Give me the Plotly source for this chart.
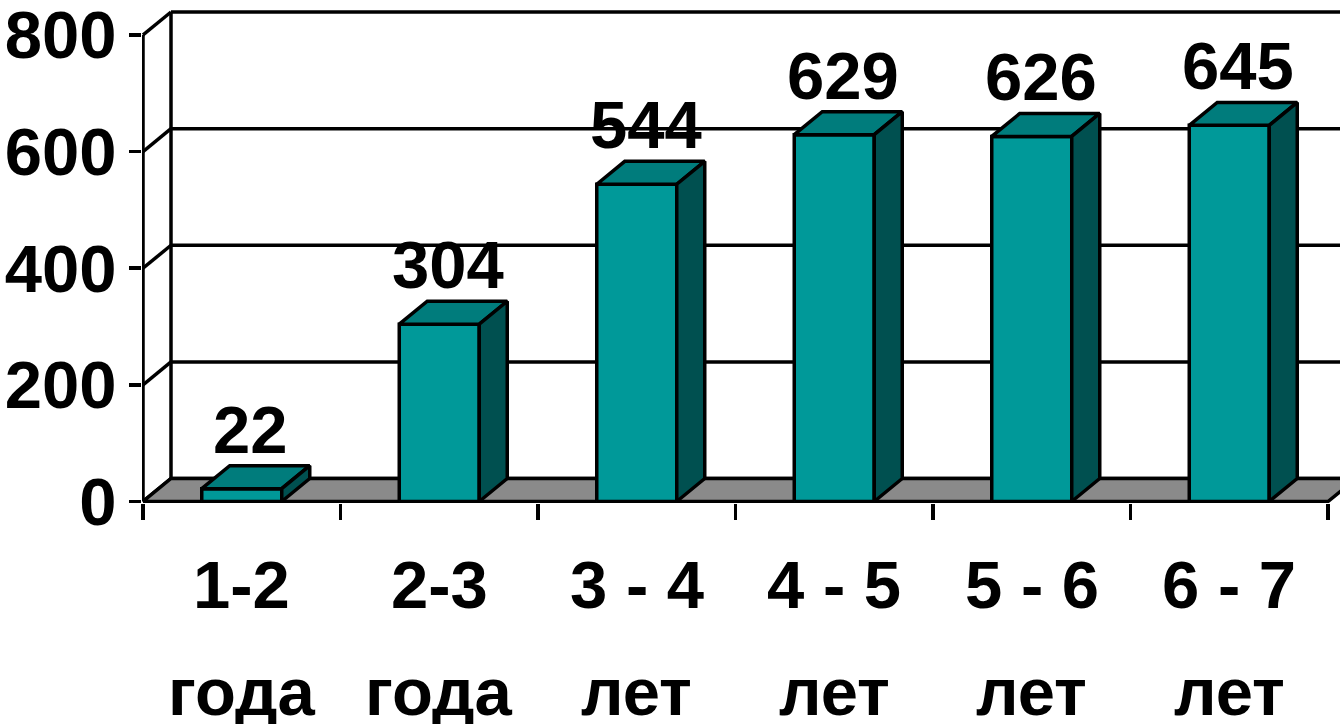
import plotly.graph_objects as go

# ---- data ----
categories_line1 = ["1-2", "2-3", "3 - 4", "4 - 5", "5 - 6", "6 - 7"]
categories_line2 = ["года", "года", "лет", "лет", "лет", "лет"]
values = [22, 304, 544, 629, 626, 645]
y_tick_values = [0, 200, 400, 600, 800]

# ---- styling / geometry ----
W, H = 1340, 724
SX = 197.5            # px per category
SY = 467 / 800        # px per y unit
DEPTH_PX = (28, 23)   # 3D offset in px (right, up)
DX = DEPTH_PX[0] / SX
DY = DEPTH_PX[1] / SY
BAR_W = 80 / SX
FRONT = "#009999"
TOP = "#007C7C"
SIDE = "#005050"
FLOOR = "#8A8A8A"
LW = 3.5
FONT = "Liberation Sans Narrow, Arial Narrow, Liberation Sans, Arial, sans-serif"
FS = 67

left_px = 142
axis_px = 143
bottom_px = 503.5
top_margin = 5
xmin = -0.5 - (axis_px - left_px) / SX
xmax = xmin + (W - left_px) / SX
ymin = -1.5 / SY
ymax = ymin + (bottom_px - top_margin) / SY

n = len(values)
x0, x1 = -0.5, n - 0.5
ytop = max(y_tick_values)

fig = go.Figure()

def poly(xs, ys, fill=None, width=LW):
    fig.add_trace(go.Scatter(
        x=xs, y=ys, mode="lines",
        fill="toself" if fill else None,
        fillcolor=fill,
        line=dict(color="black", width=width),
        hoverinfo="skip", showlegend=False))

# back wall grid lines
for v in y_tick_values:
    poly([x0 + DX, x1 + DX], [v + DY, v + DY])
    # side-wall diagonals
    poly([x0, x0 + DX], [v, v + DY])
# back wall left edge
poly([x0 + DX, x0 + DX], [DY, ytop + DY])
# floor
poly([x0, x1, x1 + DX, x0 + DX, x0], [0, 0, DY, DY, 0], fill=FLOOR)
# front y axis line
poly([x0, x0], [0, ytop])

# bars
for i, v in enumerate(values):
    a, b = i - BAR_W / 2, i + BAR_W / 2
    poly([a, b, b, a, a], [0, 0, v, v, 0], fill=FRONT)
    poly([a, b, b + DX, a + DX, a], [v, v, v + DY, v + DY, v], fill=TOP)
    poly([b, b + DX, b + DX, b, b], [0, DY, v + DY, v, 0], fill=SIDE)

annotations = []
for i, v in enumerate(values):
    annotations.append(dict(
        x=i, y=v + DY, xref="x", yref="y", text=str(v), showarrow=False,
        xanchor="center", yanchor="bottom", xshift=9, yshift=-3,
        font=dict(family=FONT, size=FS, color="black", weight="bold")))
    annotations.append(dict(
        x=i, y=0, xref="x", yref="y", text=categories_line1[i], showarrow=False,
        xanchor="center", yanchor="middle", yshift=-83,
        font=dict(family=FONT, size=FS, color="black", weight="bold")))
    annotations.append(dict(
        x=i, y=0, xref="x", yref="y", text=categories_line2[i], showarrow=False,
        xanchor="center", yanchor="middle", yshift=-190,
        font=dict(family=FONT, size=FS, color="black", weight="bold")))

fig.update_layout(
    width=W, height=H,
    margin=dict(l=left_px, r=0, t=top_margin, b=H - bottom_px, pad=0),
    paper_bgcolor="white", plot_bgcolor="white",
    showlegend=False,
    annotations=annotations,
    xaxis=dict(
        range=[xmin, xmax], showgrid=False, zeroline=False, showline=False,
        automargin=False, fixedrange=True,
        tickvals=[], showticklabels=False,
        minor=dict(tickvals=[x0 + k for k in range(n + 1)], ticks="outside",
                   ticklen=16, tickwidth=LW, tickcolor="black", showgrid=False),
    ),
    yaxis=dict(
        range=[ymin, ymax], showgrid=False, zeroline=False, showline=False,
        automargin=False, ticklabeloverflow="allow", fixedrange=True,
        tickvals=y_tick_values, ticks="outside", ticklen=12, tickwidth=LW,
        tickcolor="black", ticklabelstandoff=-1,
        tickfont=dict(family=FONT, size=FS, color="black", weight="bold"),
    ),
)

fig.write_html(
    "out.html",
    config={"displayModeBar": False, "staticPlot": True},
    post_script="document.body.style.margin='0';document.body.style.overflow='hidden';",
)
